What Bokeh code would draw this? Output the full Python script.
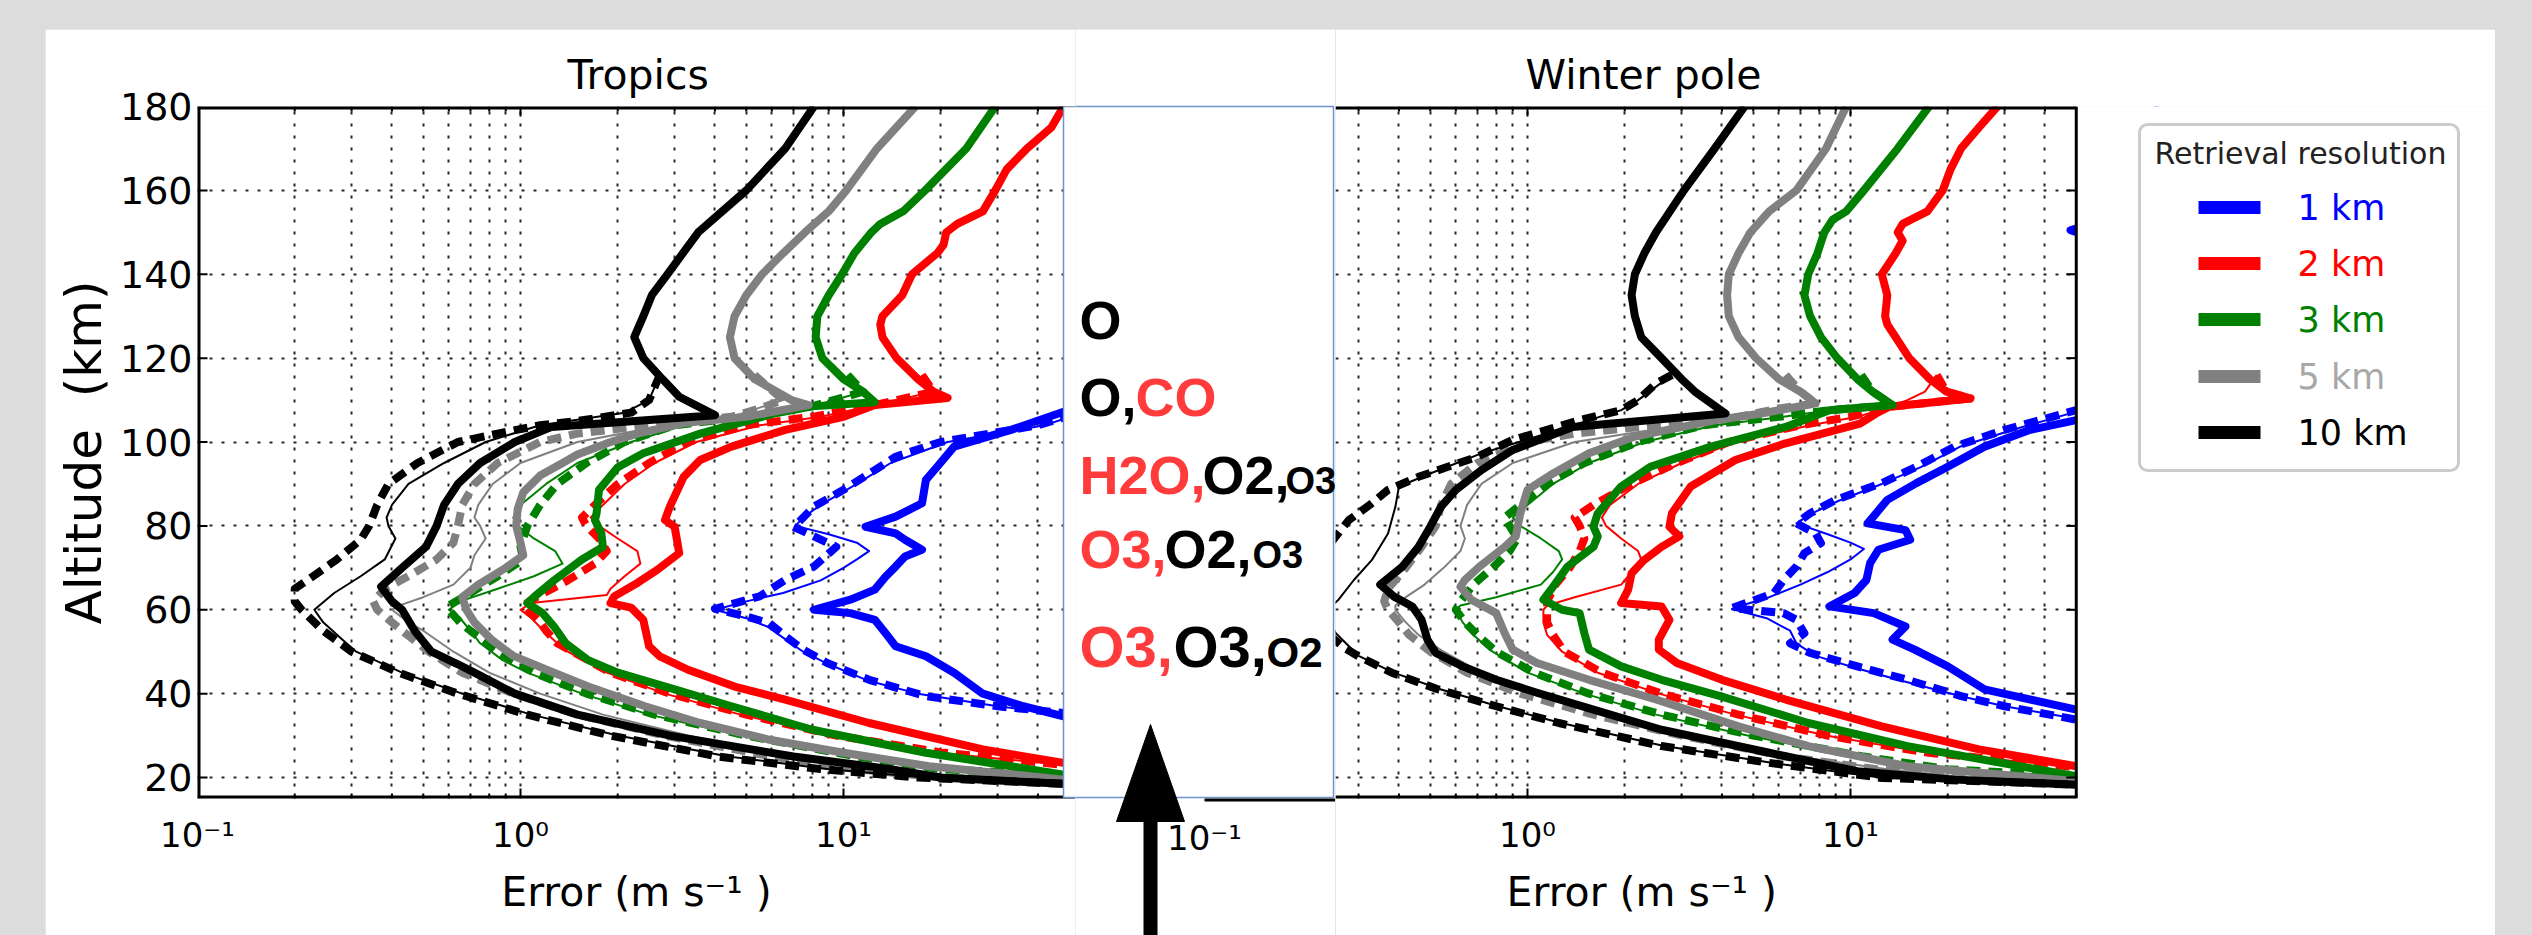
import json
from bokeh.plotting import figure
from bokeh.layouts import row, column
from bokeh.models import (Range1d, FixedTicker, LinearAxis, LogAxis, Grid, BoxAnnotation, Spacer,
                          CustomJSTickFormatter, GlobalInlineStyleSheet)
from bokeh.embed import file_html
from bokeh.resources import INLINE
from bokeh.core.properties import value

# ============================ DATA ============================
RESOLUTIONS = ["1 km", "2 km", "3 km", "5 km", "10 km"]
PANEL_TITLES = ["Tropics", "Winter pole"]
Y_TICKS = [20, 40, 60, 80, 100, 120, 140, 160, 180]
X_MAJOR = [0.1, 1, 10]
X_MINOR = [0.2, 0.3, 0.4, 0.5, 0.6, 0.7, 0.8, 0.9, 2, 3, 4, 5, 6, 7, 8, 9, 20, 30, 40]
X_TICK_LABELS = {"0.1": "10\u207b\u00b9", "1": "10\u2070", "10": "10\u00b9"}
X_LABEL = "Error (m s\u207b\u00b9 )"
Y_LABEL = "Altitude\u00a0 (km)"
LEGEND_TITLE = "Retrieval resolution"
SPECIES_ROWS = [
    [("O", "k")],
    [("O,", "k"), ("CO", "r")],
    [("H2O,", "r"), ("O2,", "k"), ("O3", "k")],
    [("O3,", "r"), ("O2,", "k"), ("O3", "k")],
    [("O3,", "r"), ("O3,", "k"), ("O2", "k")],
]

# (altitude km, error m/s) -- Tropics
TR_1KM_THICK = [(180, 90), (150, 80), (120, 75), (110, 62), (107.2, 48), (102.9, 33), (98.9, 22), (94.1, 19.5),
                (91, 18), (85.4, 17.5), (82.2, 14.5), (79.8, 11.7), (78.2, 14.5), (76.7, 15.5), (74.3, 17.5),
                (72.7, 15.5), (70.3, 14.5), (67.9, 13.5), (64.8, 12.5), (62.4, 10.5), (60, 8.1), (59.2, 10.5),
                (57.6, 12.5), (54.4, 13.5), (51.3, 14.5), (48.9, 18), (45, 22), (40, 27), (37, 36), (34.6, 48), (33, 70)]
TR_1KM_DASH = [(108, 60), (104, 40), (100, 20), (96.5, 14.5), (93.3, 12.5), (88.6, 10), (84.6, 8.1), (80.6, 7.2),
               (79.8, 7.0), (75, 9.5), (70.3, 8.1), (67.1, 6.6), (63.2, 5.5), (60.2, 4.0), (58.4, 5.0), (56.8, 5.9),
               (53.7, 6.6), (50.5, 7.5), (47.3, 8.9), (43.3, 12), (39.4, 18), (37, 30), (35.4, 48), (34, 70)]
TR_1KM_THIN = [(108, 60), (104, 42), (100, 21), (95, 14), (90, 11), (85, 8.5), (82, 7.5), (80, 7.1), (78, 9),
               (76, 11), (74, 12), (72, 11), (70, 10), (67, 8.5), (64, 6.5), (62, 5), (60, 4.0), (58, 5), (56, 5.8),
               (53, 6.6), (50, 7.5), (47, 9), (43, 12), (40, 17), (37, 30), (35, 48), (34, 70)]
TR_2KM_THICK = [(180, 48), (175, 44), (170, 37), (165, 32), (160, 29.5), (155, 27), (152, 22.5), (150, 20.8),
                (147, 20.4), (145, 19.5), (140, 16.3), (135, 15.2), (130, 13.2), (128, 13), (125, 13.2), (120, 14.6),
                (115, 17), (112, 19), (110.5, 21), (108.8, 12.5), (106, 10), (102.9, 6.6), (98.9, 4.5), (95.7, 3.6),
                (91.7, 3.2), (84.6, 2.9), (81.4, 2.8), (79.8, 3.0), (76.7, 3.05), (73.5, 3.1), (69.5, 2.65),
                (66.4, 2.3), (63.2, 1.95), (61.6, 1.9), (60.5, 2.2), (57.6, 2.4), (51.3, 2.5), (48.9, 2.7),
                (45.7, 3.3), (41.7, 4.6), (38.6, 6.6), (33, 12), (26.7, 27), (23.5, 48), (22, 80)]
TR_2KM_DASH = [(116, 17.5), (112, 19), (108.8, 12.5), (106, 8), (104, 5), (100, 3.3), (95, 2.5), (90, 2.0),
               (85, 1.7), (82, 1.55), (80, 1.6), (77, 1.75), (74, 1.85), (71, 1.7), (67, 1.4), (63, 1.12), (61, 1.02),
               (60, 1.05), (57, 1.15), (55, 1.2), (52, 1.3), (50, 1.45), (45, 1.9), (40, 2.9), (35, 5.0), (30, 9.5),
               (26, 20), (23, 48), (21.5, 80)]
TR_2KM_THIN = [(116, 17.5), (112, 19), (108.8, 12.5), (106, 8.5), (104, 5.5), (100, 3.5), (95, 2.6), (90, 2.1),
               (85, 1.8), (82, 1.65), (80, 1.75), (77, 2.0), (74, 2.3), (71, 2.35), (68, 2.1), (65, 1.9), (63.5, 1.85),
               (61.6, 1.08), (60, 1.0), (58, 1.08), (55, 1.18), (52, 1.3), (50, 1.4), (45, 1.85), (40, 2.8), (35, 4.8),
               (30, 9.3), (26, 19), (23, 48), (21.5, 80)]
TR_3KM_THICK = [(180, 29.5), (170, 24), (160, 17.9), (155, 15.3), (152, 13), (150, 12.2), (145, 10.8), (140, 9.9),
                (135, 9.0), (130, 8.3), (125, 8.2), (120, 8.6), (115, 10), (112, 11.5), (109.5, 12.5), (108.5, 8.0),
                (106.8, 6.1), (102, 3.6), (97.3, 2.4), (94, 2.0), (88.6, 1.75), (83, 1.72), (81.4, 1.7), (78.2, 1.78),
                (75, 1.8), (72, 1.55), (67, 1.27), (63, 1.1), (61.6, 1.05), (59.2, 1.17), (56, 1.27), (52, 1.38),
                (48, 1.62), (45, 2.0), (41, 3.0), (37, 4.5), (31.4, 8.0), (25.9, 18), (20.7, 48), (19.5, 80)]
TR_3KM_DASH = [(116, 10.3), (112, 11.5), (108.5, 8.0), (106, 5.0), (104, 3.0), (100, 2.1), (95, 1.6), (90, 1.3),
               (85, 1.15), (80, 1.05), (75, 1.0), (72, 1.02), (68, 0.85), (64, 0.7), (61, 0.6), (60, 0.6), (57, 0.65),
               (55, 0.7), (50, 0.85), (45, 1.1), (40, 1.6), (35, 2.6), (30, 5.0), (25, 11), (22, 20), (20.5, 48),
               (19.5, 80)]
TR_3KM_THIN = [(116, 10.3), (112, 11.5), (108.5, 8.0), (106, 5.0), (104, 3.2), (100, 2.2), (95, 1.5), (90, 1.2),
               (85, 1.0), (82, 0.95), (80, 0.98), (77, 1.1), (74, 1.28), (71, 1.35), (68, 1.1), (65, 0.85), (62, 0.65),
               (60, 0.6), (58, 0.65), (55, 0.7), (52, 0.75), (48, 0.88), (45, 1.05), (40, 1.55), (35, 2.5), (30, 4.8),
               (25, 10.5), (22, 19), (20.5, 48), (19.5, 80)]
TR_5KM_THICK = [(180, 16.7), (170, 12.7), (160, 10.2), (155, 9.0), (150, 7.6), (145, 6.5), (140, 5.6), (135, 5.0),
                (130, 4.6), (125, 4.45), (120, 4.6), (115, 5.3), (110, 6.9), (108.8, 7.8), (106, 5.0), (104.5, 3.2),
                (102, 2.3), (100, 1.9), (97, 1.5), (95, 1.35), (92, 1.15), (88, 1.02), (84, 0.98), (80, 0.97),
                (76, 1.0), (73, 1.02), (70, 0.9), (66, 0.74), (63, 0.66), (60, 0.68), (57, 0.72), (53, 0.81),
                (49, 0.95), (45, 1.27), (41.7, 1.62), (37, 2.43), (33, 3.6), (29, 5.9), (25.9, 10), (22.7, 18.4),
                (19.5, 48), (18.5, 80)]
TR_5KM_DASH = [(116, 5.3), (110, 6.5), (108, 5.5), (106, 4.5), (104, 2.5), (102, 1.5), (100, 1.15), (95, 0.85),
               (90, 0.72), (85, 0.66), (80, 0.64), (76, 0.62), (72, 0.55), (68, 0.45), (65, 0.38), (62, 0.35),
               (60, 0.36), (57, 0.40), (55, 0.43), (50, 0.52), (45, 0.66), (40, 0.95), (35, 1.5), (30, 2.8), (25, 6.0),
               (22, 11), (20, 20), (18.8, 48), (18, 80)]
TR_5KM_THIN = [(116, 5.3), (110, 6.5), (106, 4.5), (104, 2.8), (100, 1.5), (95, 1.0), (90, 0.82), (85, 0.74),
               (82, 0.72), (80, 0.75), (77, 0.78), (73, 0.72), (70, 0.70), (66, 0.62), (63, 0.50), (61, 0.42),
               (60, 0.40), (57, 0.45), (55, 0.50), (50, 0.62), (45, 0.80), (40, 1.15), (35, 1.8), (30, 3.3), (25, 7.0),
               (22, 13), (20, 22), (19, 48), (18, 80)]
TR_10KM_THICK = [(180, 8.1), (170, 6.6), (160, 5.0), (150, 3.55), (140, 2.85), (135, 2.55), (130, 2.4), (125, 2.25),
                 (120, 2.4), (115, 2.75), (110.8, 3.1), (106.4, 4.0), (103.6, 1.25), (100, 0.96), (95, 0.75),
                 (90, 0.64), (85, 0.58), (80, 0.55), (75, 0.51), (70, 0.43), (65.5, 0.37), (62, 0.40), (60, 0.43),
                 (55, 0.47), (50, 0.53), (47, 0.64), (45, 0.72), (40, 0.96), (35, 1.5), (30, 2.9), (25, 7.0), (22, 14),
                 (20, 20), (18.5, 48), (17.5, 80)]
TR_10KM_DASH = [(116, 2.7), (110, 2.5), (107, 2.2), (105, 1.5), (104, 1.15), (102, 0.85), (100, 0.64), (95, 0.48),
                (90, 0.39), (85, 0.36), (80, 0.34), (76.7, 0.32), (72, 0.27), (68.7, 0.235), (65, 0.20), (62, 0.20),
                (60, 0.21), (55, 0.245), (50, 0.30), (45, 0.42), (40, 0.64), (35, 1.05), (30, 1.9), (25, 4.1),
                (22, 8.5), (20, 17), (18.5, 48), (17.5, 80)]
TR_10KM_THIN = [(116, 2.7), (110, 2.5), (107, 2.1), (104, 1.15), (100, 0.78), (95, 0.58), (90, 0.45), (85, 0.40),
                (82, 0.385), (80, 0.39), (77, 0.41), (72, 0.38), (68, 0.32), (64, 0.265), (60, 0.23), (57, 0.245),
                (53, 0.28), (50, 0.31), (45, 0.43), (40, 0.66), (35, 1.08), (30, 2.0), (25, 4.4), (22, 9), (20, 18),
                (18.5, 48), (17.5, 80)]

# (altitude km, error m/s) -- Winter pole
WP_1KM_THICK = [(180, 90), (160, 70), (152, 55), (150.5, 48), (149, 55), (140, 70), (120, 80), (110, 70),
                (105.2, 50), (102.9, 36), (98.9, 26), (94.1, 20), (90.2, 16), (86.2, 13), (83, 12), (80.6, 11.3),
                (79, 14.8), (76.7, 15.3), (74.3, 12.2), (71.1, 11.5), (67.1, 11.2), (64, 10.3), (60.8, 8.6),
                (59.2, 11.8), (56, 14.8), (52.9, 13.5), (50.5, 15.8), (46.5, 20), (41, 26), (36.2, 50), (35, 70)]
WP_1KM_DASH = [(110, 70), (107.6, 50), (102.9, 30), (98.9, 21), (94.1, 16), (90.2, 12.5), (86.2, 9.0), (83, 7.5),
               (80.6, 6.8), (78.2, 7.8), (75.9, 8.1), (73.5, 7.2), (70.3, 6.8), (67.1, 6.2), (64, 5.8), (60.4, 4.3),
               (59.2, 6.2), (57.6, 6.8), (54.4, 7.2), (52, 6.5), (49.7, 7.5), (46.5, 10.5), (43.3, 15), (39.4, 22),
               (37, 30), (33.8, 50), (32.5, 70)]
WP_1KM_THIN = [(110, 70), (107.6, 52), (103, 32), (99, 22), (94, 16.5), (90, 12.5), (86, 9.2), (83, 7.6),
               (80.6, 6.8), (78, 8.5), (76, 10), (74.5, 11), (72, 10), (69, 8.5), (66, 7), (63, 5.6), (61, 4.6),
               (60.2, 4.3), (58, 5.5), (55, 6.5), (52, 6.8), (49, 7.8), (46, 10.5), (43, 14.5), (39.4, 22), (37, 30),
               (34, 50), (32.5, 70)]
WP_2KM_THICK = [(180, 28.5), (175, 25), (170, 22), (165, 20.4), (160, 19.3), (155, 17.3), (152, 14.5), (150, 14),
                (148, 14.5), (145, 13.8), (140, 12.5), (135, 13), (130, 12.8), (128, 13), (125, 13.8), (120, 15.2),
                (115, 17.6), (112, 19.8), (110.4, 23.5), (108.4, 13.2), (106.8, 12), (104.4, 10.7), (99.7, 6.3),
                (95.7, 4.4), (89.4, 3.2), (83, 2.8), (79.8, 2.75), (77.5, 2.95), (75, 2.6), (71.9, 2.3), (68.7, 2.1),
                (64.8, 2.05), (61.6, 1.95), (60.8, 2.6), (57.6, 2.75), (52.9, 2.55), (50.5, 2.55), (47.3, 2.9),
                (43.3, 4.0), (38.6, 6.3), (32.2, 12.5), (26.7, 25), (22.7, 50), (21.5, 80)]
WP_2KM_DASH = [(116, 18.5), (112, 19.8), (110.4, 23.5), (108.4, 13.2), (106, 10), (104, 7), (100, 4.2), (95, 2.9),
               (90, 2.1), (85, 1.6), (82, 1.4), (80, 1.45), (77, 1.5), (74, 1.45), (70, 1.35), (66, 1.22), (62, 1.15),
               (60, 1.15), (57, 1.15), (54, 1.2), (50, 1.3), (45, 1.7), (40, 2.6), (35, 4.5), (30, 8.5), (26, 17),
               (22.5, 50), (21.5, 80)]
WP_2KM_THIN = [(116, 18.5), (112, 17), (110, 15), (108.4, 13.2), (106, 10.5), (104, 7.5), (100, 4.4), (95, 3.0),
               (90, 2.2), (85, 1.8), (82, 1.7), (80, 1.75), (77, 1.95), (74, 2.2), (72, 2.25), (69, 2.1), (66, 1.95),
               (63, 1.4), (61, 1.15), (60, 1.12), (57, 1.12), (54, 1.15), (50, 1.28), (45, 1.65), (40, 2.55),
               (35, 4.4), (30, 8.4), (26, 17), (22.5, 50), (21.5, 80)]
WP_3KM_THICK = [(180, 17.5), (170, 14), (160, 11), (155, 9.7), (153, 8.8), (150, 8.3), (145, 7.9), (140, 7.4),
                (135, 7.2), (130, 7.5), (125, 8.1), (120, 9.1), (115, 10.5), (112, 11.7), (108.8, 13.5), (107.6, 8.6),
                (103.6, 6.3), (98.9, 3.7), (94.1, 2.4), (89.4, 1.95), (83, 1.65), (79.8, 1.6), (77.5, 1.65), (75, 1.6),
                (70.3, 1.33), (65.5, 1.2), (62.4, 1.12), (60, 1.28), (59.2, 1.45), (54.4, 1.5), (50.5, 1.55),
                (46.5, 1.95), (43.3, 2.6), (39.4, 3.95), (33, 7.4), (27.5, 15), (20.3, 50), (19.3, 80)]
WP_3KM_DASH = [(116, 10.8), (112, 11.7), (108.8, 13.5), (107.6, 8.6), (106, 6), (104, 3.5), (100, 2.2), (95, 1.5),
               (90, 1.15), (85, 0.95), (82, 0.85), (80, 0.88), (77, 0.93), (74, 0.88), (70, 0.78), (66, 0.68),
               (62, 0.62), (60, 0.6), (57, 0.64), (54, 0.7), (50, 0.8), (45, 1.05), (40, 1.55), (35, 2.6), (30, 5.0),
               (25, 11), (22, 20), (20.3, 50), (19.3, 80)]
WP_3KM_THIN = [(116, 10.8), (112, 11.7), (108.8, 13.5), (107.6, 8.6), (106, 6.2), (104, 3.8), (100, 2.3), (95, 1.55),
               (90, 1.2), (85, 1.0), (82, 0.9), (80, 0.95), (77, 1.1), (74, 1.25), (72, 1.28), (69, 1.2), (66, 1.1),
               (63, 0.8), (61, 0.62), (60, 0.6), (57, 0.63), (54, 0.68), (50, 0.78), (45, 1.0), (40, 1.5), (35, 2.5),
               (30, 4.8), (25, 10.5), (22, 19), (20.3, 50), (19.3, 80)]
WP_5KM_THICK = [(180, 9.7), (170, 8.4), (160, 6.8), (155, 5.6), (150, 4.9), (145, 4.5), (140, 4.2), (135, 4.15),
                (130, 4.2), (125, 4.5), (120, 5.1), (115, 6.0), (112, 7.0), (109.2, 7.8), (106.8, 5.3), (105.2, 3.8),
                (101.3, 2.15), (97.3, 1.55), (92.5, 1.2), (88.6, 1.0), (83, 0.95), (77.5, 0.92), (75, 0.85),
                (70.3, 0.71), (67.1, 0.64), (65.5, 0.62), (62.4, 0.67), (59.2, 0.8), (54.4, 0.85), (50.5, 0.9),
                (47.3, 1.07), (43.3, 1.55), (38.6, 2.5), (32.2, 4.5), (27.5, 7.4), (22.7, 15), (19.1, 50), (18.3, 80)]
WP_5KM_DASH = [(116, 6.3), (112, 7.0), (109.2, 7.8), (108, 6), (106, 4.5), (104, 2.5), (102, 1.4), (100, 1.0),
               (95, 0.7), (90, 0.58), (85, 0.54), (80, 0.52), (75, 0.47), (70, 0.42), (65, 0.37), (62, 0.36),
               (60, 0.37), (57, 0.40), (54, 0.43), (50, 0.50), (45, 0.65), (40, 0.95), (35, 1.6), (30, 3.0), (25, 6.3),
               (22, 12), (20, 22), (19, 50), (18.3, 80)]
WP_5KM_THIN = [(116, 6.3), (112, 7.0), (109.2, 7.8), (106, 4.8), (104, 3.0), (100, 1.4), (95, 0.9), (90, 0.72),
               (85, 0.65), (80, 0.62), (77, 0.64), (74, 0.62), (70, 0.55), (66, 0.48), (63, 0.42), (61, 0.39),
               (60, 0.39), (57, 0.42), (54, 0.46), (50, 0.55), (45, 0.72), (40, 1.05), (35, 1.75), (30, 3.2), (25, 6.8),
               (22, 13), (20, 23), (19, 50), (18.3, 80)]
WP_10KM_THICK = [(180, 4.7), (170, 3.8), (160, 3.05), (150, 2.5), (145, 2.3), (140, 2.15), (135, 2.1), (130, 2.15),
                 (125, 2.25), (120, 2.6), (115, 3.0), (112, 3.3), (106.8, 4.1), (103.6, 1.38), (98.1, 0.9),
                 (93.3, 0.72), (88.6, 0.6), (84.6, 0.54), (79.8, 0.5), (75, 0.46), (70.3, 0.41), (66, 0.35),
                 (63.2, 0.385), (60.8, 0.44), (57.6, 0.47), (52.9, 0.49), (49.7, 0.52), (46.5, 0.63), (43.3, 0.8),
                 (40.2, 1.07), (36.2, 1.6), (31.4, 2.6), (25.9, 5.6), (21.5, 10.5), (19.5, 21), (18.3, 50), (17.5, 80)]
WP_10KM_DASH = [(116, 2.8), (114, 2.5), (110, 2.2), (107.6, 1.95), (105.2, 1.45), (100.5, 0.9), (96.5, 0.7),
                (91.7, 0.46), (88.6, 0.37), (85.4, 0.33), (81.4, 0.28), (77.5, 0.255), (73, 0.23), (69, 0.21),
                (65, 0.195), (62, 0.19), (58, 0.21), (55, 0.235), (51, 0.27), (48.9, 0.30), (45, 0.38), (41, 0.53),
                (37, 0.8), (33, 1.25), (27.5, 2.6), (23.5, 5.6), (19.9, 12.5), (18.3, 50), (17.5, 80)]
WP_10KM_THIN = [(116, 2.8), (110, 2.2), (107.6, 1.95), (101.3, 1.07), (97.3, 0.72), (92.5, 0.5), (89.4, 0.4),
                (84.6, 0.39), (78.2, 0.37), (71.9, 0.33), (67.1, 0.29), (62.4, 0.26), (60, 0.24), (57, 0.245),
                (54.4, 0.255), (51.3, 0.28), (49, 0.30), (45, 0.385), (41, 0.54), (37, 0.81), (33, 1.27), (27.5, 2.65),
                (23.5, 5.7), (19.9, 12.7), (18.3, 50), (17.5, 80)]

TROPICS = [(TR_1KM_THICK, TR_1KM_DASH, TR_1KM_THIN), (TR_2KM_THICK, TR_2KM_DASH, TR_2KM_THIN),
           (TR_3KM_THICK, TR_3KM_DASH, TR_3KM_THIN), (TR_5KM_THICK, TR_5KM_DASH, TR_5KM_THIN),
           (TR_10KM_THICK, TR_10KM_DASH, TR_10KM_THIN)]
WINTER = [(WP_1KM_THICK, WP_1KM_DASH, WP_1KM_THIN), (WP_2KM_THICK, WP_2KM_DASH, WP_2KM_THIN),
          (WP_3KM_THICK, WP_3KM_DASH, WP_3KM_THIN), (WP_5KM_THICK, WP_5KM_DASH, WP_5KM_THIN),
          (WP_10KM_THICK, WP_10KM_DASH, WP_10KM_THIN)]

# ============================ STYLE / LAYOUT ============================
COLORS = ["#0000ff", "#ff0000", "#008000", "#808080", "#000000"]
LABEL_COLORS = ["#0000ff", "#ff0000", "#008000", "#a8a8a8", "#000000"]
SPECIES_COLORS = {"k": "#000000", "r": "#ff3b3b"}
FONT = "DejaVu Sans"
BOX_BLUE = "#6f93cc"
PAGE_GRAY = "#dcdcdc"

DEC = 323.0                 # px per decade
FRAME_TOP, FRAME_BOT = 106, 798
YMIN, YMAX = 15, 180
KM = (FRAME_BOT - FRAME_TOP) / (YMAX - YMIN)
L_X01, R_X01 = 197, 1204    # page x of 0.1 in each panel
PANEL_LEFT = 45
SPLIT_LM, SPLIT_MR = 1075, 1335
PANEL_RIGHT = 2495
CANVAS_TOP, CANVAS_BOT = 29, 935
H = CANVAS_BOT - CANVAS_TOP


def lval(px):
    return 10 ** (-1 + (px - L_X01) / DEC)


def rval(px):
    return 10 ** (-1 + (px - R_X01) / DEC)


def alt(py):
    return YMAX - (py - FRAME_TOP) / KM


def base_fig(width, xr, **kw):
    p = figure(width=width, height=H, x_range=xr, y_range=Range1d(YMIN, YMAX), x_axis_type="log",
               x_axis_location=None, y_axis_location=None, output_backend="svg", toolbar_location=None,
               min_border_top=FRAME_TOP - CANVAS_TOP, min_border_bottom=CANVAS_BOT - FRAME_BOT,
               background_fill_color="white", border_fill_color="white", outline_line_color=None, **kw)
    for g in p.grid:
        g.visible = False
    return p


def style_title(p, text, left_px, frame_left):
    p.title.text = text
    p.title.align = "left"
    p.title.offset = left_px - frame_left
    p.title.text_font = FONT
    p.title.text_font_size = "41px"
    p.title.text_font_style = "normal"
    p.title.text_color = "black"
    p.title.standoff = 16


def add_x_axis(p, ticks, label):
    ax = LogAxis(ticker=FixedTicker(ticks=ticks),
                 formatter=CustomJSTickFormatter(code="const m = %s; const s = m[String(tick)]; return s === undefined ? '' : s;" % json.dumps(X_TICK_LABELS)))
    ax.axis_line_color = None
    ax.major_tick_in = ax.major_tick_out = ax.minor_tick_in = ax.minor_tick_out = 0
    ax.major_label_text_font = FONT
    ax.major_label_text_font_size = "34px"
    ax.major_label_text_color = "black"
    ax.major_label_standoff = 16
    ax.axis_label = label
    ax.axis_label_text_font = FONT
    ax.axis_label_text_font_size = "41px"
    ax.axis_label_text_font_style = "normal"
    ax.axis_label_text_color = "black"
    ax.axis_label_standoff = 10
    p.add_layout(ax, "below")


def add_grids(p, xticks):
    p.add_layout(Grid(dimension=0, ticker=FixedTicker(ticks=xticks), grid_line_color="black",
                      grid_line_width=2, grid_line_dash="3 9", grid_line_alpha=0.85))
    p.add_layout(Grid(dimension=1, ticker=FixedTicker(ticks=Y_TICKS[:-1]), grid_line_color="black",
                      grid_line_width=2, grid_line_dash="3 9", grid_line_alpha=0.85))


def draw_curves(p, sets):
    for color, (thick, dash, thin) in zip(COLORS, sets):
        for pts, w, d in ((thick, 8, "solid"), (dash, 8, "14 8"), (thin, 2, "solid")):
            p.line([e for a, e in pts], [a for a, e in pts], line_color=color, line_width=w,
                   line_dash=d, line_join="round")


def x_ticks_segments(p, majors, minors, x_lo, x_hi):
    x0, y0, x1, y1 = [], [], [], []
    for t in majors + minors:
        if not (x_lo < t < x_hi):
            continue
        ln = (10 if t in majors else 5) / KM
        x0 += [t, t]; x1 += [t, t]
        y0 += [YMIN, YMAX]; y1 += [YMIN + ln, YMAX - ln]
    p.segment(x0=x0, y0=y0, x1=x1, y1=y1, line_color="black", line_width=2)


def y_ticks_segments(p, xpos, direction):
    f = 10 ** (direction * 10 / DEC)
    ys = Y_TICKS[:-1]
    p.segment(x0=[xpos] * len(ys), y0=ys, x1=[xpos * f] * len(ys), y1=ys, line_color="black", line_width=2)


# ---------------- left panel: Tropics ----------------
L_END = lval(SPLIT_LM)
pL = base_fig(SPLIT_LM - PANEL_LEFT, Range1d(0.1, L_END), min_border_left=L_X01 - PANEL_LEFT, min_border_right=0)
style_title(pL, PANEL_TITLES[0], 567, L_X01)
yax = LinearAxis(ticker=FixedTicker(ticks=Y_TICKS))
yax.axis_line_color = None
yax.major_tick_in = yax.major_tick_out = yax.minor_tick_in = yax.minor_tick_out = 0
yax.major_label_text_font = FONT
yax.major_label_text_font_size = "38px"
yax.major_label_text_color = "black"
yax.major_label_standoff = 5
yax.axis_label = Y_LABEL
yax.axis_label_text_font = FONT
yax.axis_label_text_font_size = "50px"
yax.axis_label_text_font_style = "normal"
yax.axis_label_text_color = "black"
yax.axis_label_standoff = 4
pL.add_layout(yax, "left")
add_x_axis(pL, X_MAJOR, X_LABEL)
add_grids(pL, X_MAJOR + X_MINOR)
draw_curves(pL, TROPICS)
pL.segment(x0=[0.1, 0.1, 0.1], y0=[YMIN, YMAX, YMIN], x1=[0.1, L_END, L_END], y1=[YMAX, YMAX, YMIN],
           line_color="black", line_width=6)
x_ticks_segments(pL, X_MAJOR, X_MINOR, 0.1, 45)
y_ticks_segments(pL, 0.1, 1)
pL.quad(left=[lval(1063)], right=[L_END * 2], bottom=[alt(797)], top=[YMAX],
        fill_color="white", line_color=BOX_BLUE, line_width=1.5)

# ---------------- middle strip: species box and arrow ----------------
pM = figure(width=SPLIT_MR - SPLIT_LM, height=H, x_range=Range1d(SPLIT_LM, SPLIT_MR),
            y_range=Range1d(CANVAS_BOT, CANVAS_TOP), x_axis_location=None, y_axis_location=None,
            output_backend="svg", toolbar_location=None, min_border=0, outline_line_color=None,
            background_fill_color="white", border_fill_color="white")
try:
    pM.frame_align = False
except Exception:
    pass
for g in pM.grid:
    g.visible = False
pM.quad(left=[1063], right=[1333], top=[FRAME_TOP], bottom=[797], fill_color="white",
        line_color=BOX_BLUE, line_width=1.5)
pM.segment(x0=[R_X01], y0=[799.5], x1=[SPLIT_MR], y1=[799.5], line_color="black", line_width=3)
pM.text(x=[R_X01], y=[837], text=[X_TICK_LABELS["0.1"]], text_align="center", text_baseline="middle",
        text_font=value(FONT), text_font_size="34px", text_color="black")
ROW_BASE = [338.5, 416, 494, 568, 667]
ROW_X = [[1079], [1079, 1135], [1079, 1202, 1285], [1079, 1164, 1252], [1079, 1173, 1266]]
ROW_SIZE = [[54], [54, 54], [54, 54, 38], [54, 54, 38], [58, 58, 42]]
tx, ty, tt, tc, ts = [], [], [], [], []
for segs, base, xs, sizes in zip(SPECIES_ROWS, ROW_BASE, ROW_X, ROW_SIZE):
    for (txt, ck), xx, sz in zip(segs, xs, sizes):
        tx.append(xx); ty.append(base - 0.358 * sz); tt.append(txt); tc.append(SPECIES_COLORS[ck])
        ts.append("%dpx" % sz)
pM.text(x=tx, y=ty, text=tt, text_color=tc, text_font_size=ts, text_font=value("Liberation Sans"),
        text_font_style="bold", text_align="left", text_baseline="middle")
pM.quad(left=[1143], right=[1157], top=[819], bottom=[CANVAS_BOT + 20], fill_color="black", line_color=None)
pM.patch(x=[1116, 1150, 1184], y=[821, 724, 821], fill_color="black", line_color="black", line_width=1)

# ---------------- right panel: Winter pole ----------------
R_START, R_END = rval(SPLIT_MR), rval(PANEL_RIGHT)
pR = base_fig(PANEL_RIGHT - SPLIT_MR, Range1d(R_START, R_END), min_border_left=0, min_border_right=0)
style_title(pR, PANEL_TITLES[1], 1525, SPLIT_MR)
add_x_axis(pR, [1, 10], X_LABEL + "\u00a0" * 42)
add_grids(pR, [t for t in X_MAJOR + X_MINOR if R_START < t < 45])
draw_curves(pR, WINTER)
pR.quad(left=[50], right=[R_END * 2], bottom=[0], top=[200], fill_color="white", line_color=None)
pR.segment(x0=[R_START, R_START], y0=[YMAX, YMIN], x1=[50, 50], y1=[YMAX, YMIN], line_color="black", line_width=6)
pR.segment(x0=[50], y0=[YMIN], x1=[50], y1=[YMAX], line_color="black", line_width=3)
x_ticks_segments(pR, X_MAJOR, X_MINOR, R_START, 45)
y_ticks_segments(pR, 50, -1)

# legend (drawn inside the right canvas)
LEG_Y = [207, 263, 319, 376, 432]
pR.segment(x0=[rval(2198)] * 5, x1=[rval(2260)] * 5, y0=[alt(y) for y in LEG_Y], y1=[alt(y) for y in LEG_Y],
           line_color=COLORS, line_width=13, line_cap="butt")
pR.text(x=[rval(2297)] * 5, y=[alt(y) for y in LEG_Y], text=RESOLUTIONS, text_color=LABEL_COLORS,
        text_font=value(FONT), text_font_size="35px", text_align="left", text_baseline="middle")
pR.text(x=[rval(2300)], y=[alt(153)], text=[LEGEND_TITLE], text_color="#222222", text_font=value(FONT),
        text_font_size="30px", text_align="center", text_baseline="middle")
leg_box = BoxAnnotation(left=rval(2139), right=rval(2458), top=alt(124), bottom=alt(470),
                        fill_alpha=0, line_color="#555555", line_width=3)
try:
    leg_box.border_radius = 8
except Exception:
    pass
pR.add_layout(leg_box)

page = column(Spacer(width=PANEL_RIGHT, height=CANVAS_TOP),
              row(Spacer(width=PANEL_LEFT, height=H), pL, pM, pR),
              stylesheets=[GlobalInlineStyleSheet(css="body { background-color: %s; }" % PAGE_GRAY)])
open("out.html", "w", encoding="utf-8").write(file_html(page, INLINE))
